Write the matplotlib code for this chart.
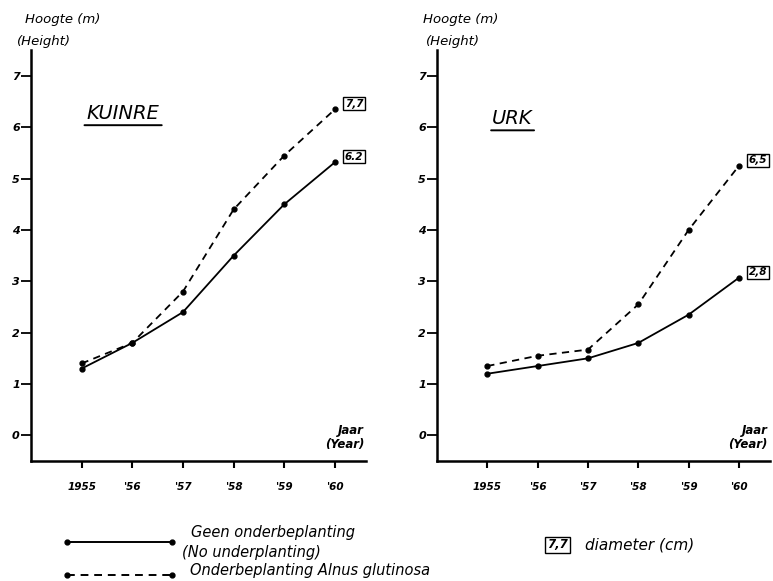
import matplotlib
matplotlib.use("Agg")
import matplotlib.pyplot as plt
from matplotlib.lines import Line2D

years = [1955, 1956, 1957, 1958, 1959, 1960]
xlabels = ["1955", "'56", "'57", "'58", "'59", "'60"]
yticks = [0, 1, 2, 3, 4, 5, 6, 7]

kuinre_none = [1.3, 1.8, 2.4, 3.5, 4.5, 5.32]
kuinre_alnus = [1.4, 1.8, 2.8, 4.4, 5.45, 6.35]
kuinre_diam = ["6.2", "7,7"]

urk_none = [1.2, 1.35, 1.5, 1.8, 2.35, 3.07]
urk_alnus = [1.35, 1.55, 1.67, 2.55, 4.0, 5.25]
urk_diam = ["2,8", "6,5"]

font = dict(fontstyle="italic", fontweight="bold", family="DejaVu Sans")
lfont = dict(fontstyle="italic", family="DejaVu Sans")

W, H = 773, 581
fig = plt.figure(figsize=(7.73, 5.81), dpi=100)
fig.patch.set_facecolor("white")

panels = [
    ([0.040, 0.2065, 0.434, 0.707], "KUINRE", kuinre_none, kuinre_alnus, kuinre_diam,
     (1955.1, 6.27), (25, 19), (17, 42)),
    ([0.5653, 0.2065, 0.431, 0.707], "URK", urk_none, urk_alnus, urk_diam,
     (1955.1, 6.17), (423, 19), (426, 42)),
]

for rect, title, none, alnus, diam, tpos, hpos1, hpos2 in panels:
    ax = fig.add_axes(rect)
    ax.plot(years, none, color="black", lw=1.3, marker="o", ms=3.5)
    ax.plot(years, alnus, color="black", lw=1.3, ls=(0, (4, 3)), marker="o", ms=3.5)
    ax.set_xlim(1954.0, 1960.62)
    ax.set_ylim(-0.5, 7.5)
    ax.set_xticks(years)
    ax.set_xticklabels(xlabels, **font, fontsize=7.5)
    ax.set_yticks(yticks)
    ax.set_yticklabels([str(v) for v in yticks], **font, fontsize=8)
    for s in ["top", "right"]:
        ax.spines[s].set_visible(False)
    for s in ["left", "bottom"]:
        ax.spines[s].set_linewidth(1.8)
    ax.tick_params(axis="y", direction="out", length=7, width=1.3, pad=1)
    ax.tick_params(axis="x", direction="out", length=5, width=1.5, pad=10)
    # diameter boxes at end of lines
    for val, lab in zip([none[-1], alnus[-1]], diam):
        ax.annotate(lab, xy=(1960, val), xytext=(7, 4), textcoords="offset points",
                    ha="left", va="center", fontsize=7.5, **font,
                    bbox=dict(boxstyle="square,pad=0.15", fc="white", ec="black", lw=1.0))
    t = ax.text(tpos[0], tpos[1], title, fontsize=14, ha="left", va="center", **lfont)
    # underline
    ax.annotate("", xy=(-0.03, -0.12), xycoords=t, xytext=(1.03, -0.12), textcoords=t,
                arrowprops=dict(arrowstyle="-", lw=1.4, color="black",
                                shrinkA=0, shrinkB=0))
    ax.text(0.993, 0.025, "Jaar\n(Year)", transform=ax.transAxes, ha="right", va="bottom",
            fontsize=8.5, linespacing=1.05, **font)
    fig.text(hpos1[0] / W, 1 - hpos1[1] / H, "Hoogte (m)", ha="left", va="center",
             fontsize=9.5, **lfont)
    fig.text(hpos2[0] / W, 1 - hpos2[1] / H, "(Height)", ha="left", va="center",
             fontsize=9.5, **lfont)

# legend at the bottom
fig.add_artist(Line2D([67 / W, 172 / W], [1 - 542 / H] * 2, color="black", lw=1.4,
                      marker="o", ms=3.5, markevery=[0, 1]))
fig.add_artist(Line2D([67 / W, 172 / W], [1 - 575 / H] * 2, color="black", lw=1.4,
                      ls=(0, (4, 3)), marker="o", ms=3.5, markevery=[0, 1]))
fig.text(191 / W, 1 - 533 / H, "Geen onderbeplanting", ha="left", va="center", fontsize=10.5, **lfont)
fig.text(182 / W, 1 - 553 / H, "(No underplanting)", ha="left", va="center", fontsize=10.5, **lfont)
fig.text(190 / W, 1 - 571 / H, "Onderbeplanting Alnus glutinosa", ha="left", va="center", fontsize=10.5, **lfont)
fig.text(547 / W, 1 - 545 / H, "7,7", ha="left", va="center", fontsize=8.5, **font,
         bbox=dict(boxstyle="square,pad=0.15", fc="white", ec="black", lw=1.0))
fig.text(585 / W, 1 - 545 / H, "diameter (cm)", ha="left", va="center", fontsize=11, **lfont)

fig.savefig("out.png", dpi=100, facecolor="white")
